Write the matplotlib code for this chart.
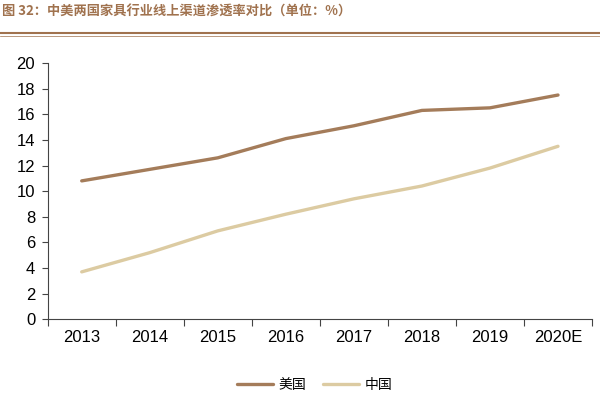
import matplotlib
matplotlib.use("Agg")
import matplotlib.pyplot as plt
from matplotlib.lines import Line2D
import numpy as np

years = ["2013", "2014", "2015", "2016", "2017", "2018", "2019", "2020E"]
us = [10.8, 11.7, 12.6, 14.1, 15.1, 16.3, 16.5, 17.5]
cn = [3.7, 5.2, 6.9, 8.2, 9.4, 10.4, 11.8, 13.5]
yticks = list(range(0, 21, 2))
title = "图 32：中美两国家具行业线上渠道渗透率对比（单位：%）"
legend_labels = ["美国", "中国"]

US_C = "#A47C5A"
CN_C = "#DCCBA2"
TITLE_C = "#A0724E"

plt.rcParams['font.family'] = ['Liberation Sans Narrow', 'Liberation Sans', 'DejaVu Sans']

fig = plt.figure(figsize=(6, 4), dpi=100)
ax = fig.add_axes([0.0795, 0.2018, 0.9072, 0.6407])

x = np.arange(len(years))
ax.plot(x, us, color=US_C, lw=2.4, solid_capstyle='round', label=legend_labels[0])
ax.plot(x, cn, color=CN_C, lw=2.4, solid_capstyle='round', label=legend_labels[1])

ax.set_xlim(-0.5, len(years) - 0.5)
ax.set_ylim(0, 20)
ax.set_yticks(yticks)
ax.set_yticklabels([str(v) for v in yticks], fontsize=12)
ax.set_xticks(x)
ax.set_xticklabels(years, fontsize=12)
ax.set_xticks(np.arange(-0.5, len(years), 1.0), minor=True)
ax.tick_params(axis='x', which='major', length=0, pad=8)
ax.tick_params(axis='x', which='minor', length=5, width=0.8, direction='out', color='#444444')
ax.tick_params(axis='y', length=4, width=0.8, direction='out', color='#444444', pad=5)
for s in ['top', 'right']:
    ax.spines[s].set_visible(False)
for s in ['left', 'bottom']:
    ax.spines[s].set_color('#444444')
    ax.spines[s].set_linewidth(0.8)

leg = ax.legend(loc='upper center', bbox_to_anchor=(0.49, -0.18), ncol=2, frameon=False,
                prop={'family': ['Noto Sans CJK SC'], 'size': 10},
                handlelength=2.6, handletextpad=0.4, columnspacing=1.2)

fig.text(0.003, 0.972, title, fontsize=9.5, fontweight='bold', color=TITLE_C,
         family=['Noto Sans CJK SC', 'DejaVu Sans'], va='center', ha='left')
fig.add_artist(Line2D([0, 1], [0.917, 0.917], color=TITLE_C, lw=1.5, transform=fig.transFigure))
fig.add_artist(Line2D([0, 1], [0.911, 0.911], color=TITLE_C, lw=0.5, transform=fig.transFigure))

fig.savefig("out.png", dpi=100)
